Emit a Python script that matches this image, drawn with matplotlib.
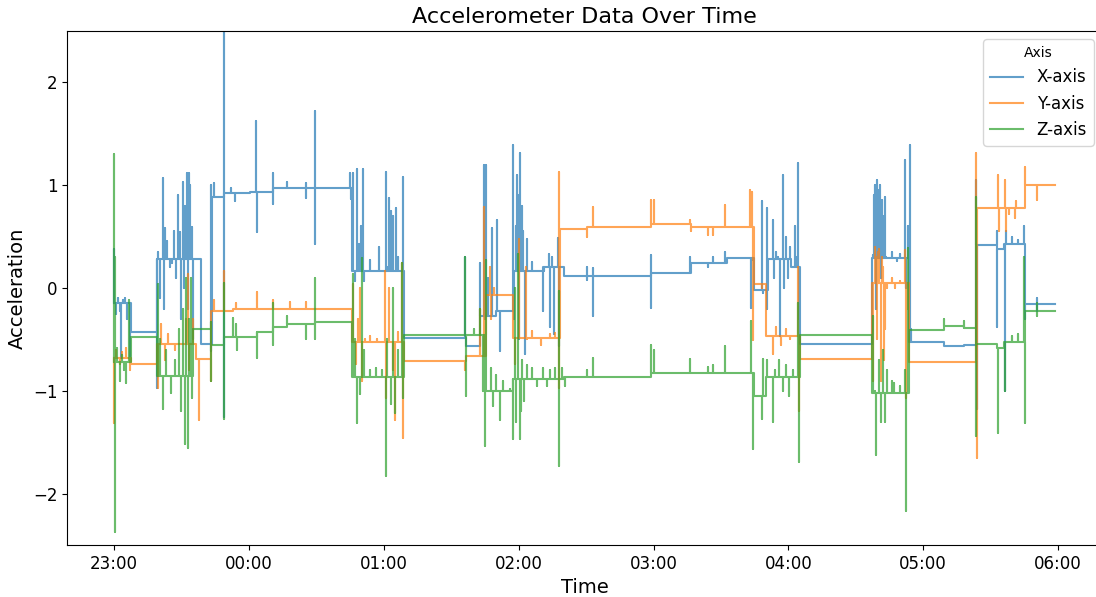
import pandas as pd
import matplotlib
matplotlib.use("Agg")
import matplotlib.pyplot as plt
import matplotlib.dates as mdates

start = pd.Timestamp("2024-05-01 23:00:00")
end_min = 418.6  # last sample, minutes after start

# X axis: resting levels (minute, g) and short excursions (minute, peak g)
x_level_t = [0, 7.6, 19.1, 38.9, 43.6, 49.0, 60.5, 70.7, 105.9, 129.0, 156.5, 162.8, 170.0,
             177.5, 191.0, 200.0, 239.0, 256.5, 272.5, 284.5, 291.0, 301.0, 305.2, 337.2,
             353.5, 369.3, 378.2, 383.5, 393.0, 396.0, 405.2]
x_level_v = [-0.15, -0.43, 0.28, -0.54, 0.89, 0.92, 0.93, 0.97, 0.17, -0.49, -0.56, -0.27, -0.22,
             0.17, 0.2, 0.12, 0.15, 0.24, 0.29, -0.02, 0.28, 0.2, -0.54, 0.29,
             -0.53, -0.56, -0.55, 0.42, 0.38, 0.43, -0.16]
x_spike_t = [0.1, 0.9, 1.8, 2.7, 3.1, 4.0, 4.9, 5.8, 7.1,
             19.1, 19.6, 20.5, 21.8, 22.2, 22.7, 23.6, 24.9, 25.8, 26.5, 27.5, 28.3,
             29.4, 29.8, 30.7, 31.1, 31.5, 32.5, 32.9, 33.4, 33.8, 34.0, 34.7, 35.1,
             43.0, 43.3, 44.5, 48.9, 49.05, 52.0, 53.8, 63.2, 63.4, 70.75, 70.9, 77.0,
             85.4, 85.6, 89.4, 89.6,
             105.0, 105.4, 106.3, 107.2, 108.1, 109.0, 109.9, 110.8, 111.2, 113.9, 117.9,
             121.0, 121.5, 122.3, 123.2, 124.1, 125.5, 126.4, 128.6,
             156.2, 162.9, 164.6, 165.1, 165.5, 166.4, 168.2, 170.4, 171.7,
             177.6, 178.0, 178.9, 179.2, 179.8, 180.2, 180.6, 181.1, 181.5, 182.0, 182.9, 183.7,
             186.0, 190.9, 191.3, 193.5, 194.0, 194.9, 195.8, 197.5, 198.0,
             210.4, 210.6, 213.1, 213.3, 238.9, 239.1, 256.3, 264.3, 266.5, 271.8,
             283.4, 284.3, 288.3, 288.5, 290.5, 290.7, 293.2, 293.4, 294.5, 295.4,
             296.3, 297.6, 298.1, 299.0, 299.9, 300.8, 302.9, 303.9, 304.3, 304.7,
             337.7, 338.2, 338.6, 339.0, 339.5, 340.0, 340.4, 340.8, 341.2, 341.7, 342.1,
             342.5, 343.0, 343.5,
             346.1, 348.4, 349.7, 351.9, 352.4, 353.2, 354.1, 354.6,
             383.5, 383.7, 392.8, 393.0, 396.4, 396.6, 399.5, 402.2, 405.0, 405.3,
             410.6, 410.8]
x_spike_v = [0.38, -0.25, -0.1, -0.22, -0.68, -0.12, -0.1, -0.3, -0.66,
             -0.97, 0.35, -0.1, 1.07, -0.2, 0.58, 0.46, 0.2, 0.24, 0.55, 0.1, 0.9,
             0.54, -0.3, 1.03, 0.0, 0.8, 1.12, -0.2, 1.12, 0.49, 1.0, 0.59, -0.5,
             1.0, -0.61, 1.02, 2.7, -1.25, 0.97, 0.85, 1.62, 0.54, 1.12, 0.82, 1.03,
             1.02, 0.88, 1.72, 0.43,
             1.12, 0.87, 1.12, 0.07, 1.16, 0.43, 0.6, 1.16, 0.07, 0.27, 0.4,
             1.13, 0.2, 0.88, 0.75, 0.7, 0.78, 0.3, 1.08,
             0.3, 0.24, 1.2, -0.3, 1.2, 0.1, 0.58, 0.66, -0.61,
             1.39, -0.3, 0.6, 1.1, 0.9, -0.5, 1.31, 0.2, 0.8, 0.55, -0.64, 0.48,
             0.25, -0.22, 0.17, 0.33, -0.38, 0.3, -0.45, 0.49, -0.56,
             0.2, 0.08, 0.19, -0.27, 0.32, -0.19, 0.3, 0.2, 0.3, 0.35,
             -0.19, 0.27, 0.85, -0.05, 0.78, -0.2, 0.66, 0.1, 0.35, 0.3,
             -0.47, 1.1, 0.0, 0.5, 0.1, 0.4, 0.6, 0.3, 1.22, -0.3,
             0.32, 0.9, 1.0, -0.2, 1.05, 0.95, 0.3, 1.0, 0.1, 0.86, 0.45,
             0.7, 0.89, 0.3,
             0.35, 0.26, 0.33, 1.25, 0.0, 0.6, 1.39, -0.4,
             1.05, -1.18, 0.55, -0.38, -1.0, 0.55, 0.5, 0.47, 0.6, -0.3,
             -0.1, -0.22]

# Y axis
y_level_t = [0, 7.6, 19.1, 36.5, 43.3, 53.0, 105.9, 129.0, 156.5, 165.5, 177.5, 198.2,
             210.5, 239.0, 256.5, 284.5, 290.0, 305.2, 337.2, 353.5, 383.5, 405.2]
y_level_v = [-0.68, -0.74, -0.54, -0.69, -0.22, -0.2, -0.53, -0.71, -0.66, -0.07, -0.49, 0.57,
             0.59, 0.62, 0.59, 0.04, -0.47, -0.69, 0.05, -0.72, 0.78, 1.0]
y_spike_t = [0.2, 1.0, 2.5, 3.5, 5.5, 7.0,
             19.4, 21.0, 22.5, 24.0, 27.0, 31.8, 32.9, 33.5, 35.0, 37.8,
             43.1, 44.5, 48.9, 54.3, 63.6, 70.7, 78.3, 85.4,
             106.5, 107.5, 108.5, 109.5, 110.5, 111.5, 114.0, 117.0, 120.5, 121.0,
             122.5, 124.0, 125.0, 126.5, 128.3, 128.7,
             156.2, 162.8, 164.6, 165.0, 167.3, 167.6, 169.0,
             178.4, 180.2, 183.3, 183.5, 186.0, 190.0, 194.0, 196.0, 197.8, 198.0,
             210.4, 213.1, 238.9, 240.2, 256.3, 256.5, 264.3, 266.5, 271.8,
             283.0, 283.6, 284.3,
             288.3, 293.2, 294.5, 296.8, 299.0, 300.8, 304.3, 304.6,
             337.8, 338.5, 338.8, 339.5, 339.8, 340.2, 341.0, 341.5, 342.0, 342.5, 343.0, 344.0,
             346.1, 347.5, 349.7, 351.9, 352.3, 353.0,
             383.5, 383.7, 393.3, 393.5, 396.4, 396.6, 398.2, 400.9, 401.1, 405.3,
             410.6]
y_spike_v = [-1.31, -0.6, -0.74, -0.62, -0.58, -0.8,
             -0.97, -0.35, -0.7, -0.45, -0.6, -0.3, 0.14, -0.8, -0.3, -1.28,
             -0.9, -0.12, 0.17, -0.15, -0.04, -0.12, -0.14, -0.14,
             0.04, -0.74, -0.3, 0.0, -0.9, -0.5, -0.47, -0.5, 0.17, -1.07,
             0.0, -0.8, -1.28, -0.43, 0.24, -1.46,
             -0.8, -0.2, 0.79, -0.3, 0.2, -0.3, 0.0,
             -0.74, 0.48, 0.2, -0.5, -0.42, -0.55, -0.45, -0.44, -0.97, 1.13,
             0.5, 0.79, 0.86, 0.86, 0.66, 0.55, 0.52, 0.52, 0.81,
             0.95, 0.93, -0.51,
             0.0, -0.64, -0.38, -0.55, -0.4, -0.5, 0.2, -1.2,
             -0.9, 0.4, 0.3, -0.5, 0.35, 0.38, -0.9, 0.3, 0.2, -0.7, -0.4, 0.0,
             0.1, 0.0, 0.07, 0.37, -1.07, -0.2,
             1.31, -1.65, 1.1, 0.55, 1.05, 0.55, 0.72, 0.68, 0.85, 1.18,
             0.86]

# Z axis
z_level_t = [0, 7.6, 19.1, 35.0, 43.3, 49.0, 63.6, 70.7, 77.0, 89.4, 105.9, 129.0, 165.5,
             177.5, 200.0, 239.0, 284.5, 290.0, 305.2, 337.2, 353.5, 369.3, 378.2, 383.5,
             393.0, 396.0, 405.2]
z_level_v = [-0.72, -0.48, -0.86, -0.4, -0.55, -0.48, -0.43, -0.38, -0.35, -0.33, -0.87, -0.46, -1.0,
             -0.89, -0.87, -0.83, -1.05, -0.87, -0.46, -1.02, -0.41, -0.37, -0.39, -0.54,
             -0.58, -0.53, -0.22]
z_spike_t = [0.1, 0.3, 0.5, 1.5, 2.5, 3.5, 4.5, 5.5, 6.5, 7.0,
             19.5, 20.5, 21.8, 23.0, 25.5, 27.0, 29.0, 30.0, 30.8,
             31.6, 32.0, 32.9, 33.5, 34.2, 34.8,
             43.0, 43.1, 48.9, 49.1, 52.9, 54.3, 54.5, 63.6, 70.7, 70.9, 77.0, 85.4, 89.45, 89.6,
             106.2, 107.0, 108.0, 109.5, 110.5, 111.0, 114.0, 116.5, 119.0,
             121.0, 121.5, 123.0, 124.0, 125.0, 126.5, 128.3, 128.7,
             156.2, 156.4, 160.0, 162.8, 164.2, 165.0, 165.3,
             167.5, 168.5, 170.0, 171.5, 173.0, 176.0,
             177.6, 178.5, 179.0, 179.5, 180.5, 181.0, 181.5, 182.5, 183.5,
             186.0, 188.0, 191.0, 192.5, 194.0, 196.0, 197.8, 198.1, 199.5, 200.5,
             210.4, 213.1, 238.9, 240.2, 256.3, 264.3, 266.5, 271.8,
             283.2, 283.5, 284.2, 288.3, 288.5, 290.3, 293.2, 294.0, 296.0, 297.5,
             299.0, 300.5, 302.0, 304.3, 304.6,
             337.6, 338.5, 339.2, 340.5, 341.4, 342.3, 343.2, 344.0,
             346.1, 347.0, 349.7, 351.9, 352.4, 353.2,
             369.3, 378.2, 383.3, 383.6, 393.2, 396.4, 399.5, 402.2, 404.9, 405.1,
             410.6, 410.8]
z_spike_v = [1.3, -2.37, 0.3, -0.58, -0.9, -0.65, -0.8, -0.92, -0.12, -0.7,
             0.04, -0.5, -1.18, -0.6, -1.02, -0.7, -0.4, -1.2, -0.2,
             -1.52, 0.1, -1.56, -0.3, 0.1, -1.07,
             -0.33, -0.9, 0.05, -1.27, -0.29, -0.35, -0.6, -0.68, -0.15, -0.55, -0.27, -0.5, 0.1, -0.5,
             0.14, -0.5, -1.31, -1.03, 0.29, -0.6, -0.8, -0.78, -0.8,
             -1.83, -0.5, -1.13, 0.0, -1.22, -0.6, 0.24, -1.07,
             0.3, -1.05, -0.4, -0.2, -1.0, -1.54, 0.27,
             -0.78, -1.15, -0.85, -1.28, -0.9, -0.98,
             -1.47, 0.0, -1.3, 0.33, -1.47, -1.2, -0.7, -1.1, -0.75,
             -0.78, -0.95, -0.78, -0.95, -0.8, -0.78, -0.03, -1.73, -0.78, -0.95,
             -0.8, -0.68, -0.55, -0.6, -0.69, -0.77, -0.75, -0.56,
             -0.32, -0.7, -1.57, -1.27, -0.69, -0.7, -1.3, -0.8, -0.7, -1.0,
             -0.75, -1.05, -0.8, -0.15, -1.69,
             -0.27, -1.0, -1.62, -0.7, -1.3, -0.6, -1.3, -0.8,
             -0.9, -0.92, -0.95, -0.8, -2.17, 0.39,
             -0.3, -0.32, 0.89, -1.44, -1.41, -1.0, -0.47, -0.45, 0.3, -1.31,
             -0.15, -0.27]


def build_trace(level_t, level_v, spike_t, spike_v):
    # resting level held between changes, each excursion drawn as a vertical jump and back
    events = [(t, 0, v) for t, v in zip(level_t, level_v)]
    events += [(t, 1, v) for t, v in zip(spike_t, spike_v)]
    events.sort(key=lambda e: (e[0], e[1]))
    ts, vs = [], []
    cur = level_v[0]
    for t, kind, v in events:
        if kind == 0:
            ts += [t, t]
            vs += [cur, v]
            cur = v
        else:
            ts += [t, t, t]
            vs += [cur, v, cur]
    ts.append(end_min)
    vs.append(cur)
    return start + pd.to_timedelta(ts, unit="m"), vs


fig = plt.figure(figsize=(10.96, 5.97), dpi=100)
ax = fig.add_axes([67 / 1096, 52 / 597, 1035 / 1096, 514 / 597])

for name, lt, lv, st, sv in [("X-axis", x_level_t, x_level_v, x_spike_t, x_spike_v),
                             ("Y-axis", y_level_t, y_level_v, y_spike_t, y_spike_v),
                             ("Z-axis", z_level_t, z_level_v, z_spike_t, z_spike_v)]:
    t, v = build_trace(lt, lv, st, sv)
    ax.plot(t, v, label=name, alpha=0.7, linewidth=1.5)

ax.set_ylim(-2.5, 2.5)
ax.spines["right"].set_visible(False)
ax.xaxis.set_major_locator(mdates.HourLocator())
ax.xaxis.set_major_formatter(mdates.DateFormatter("%H:%M"))
ax.tick_params(labelsize=12)
ax.set_title("Accelerometer Data Over Time", fontsize=16)
ax.set_xlabel("Time", fontsize=14)
ax.set_ylabel("Acceleration", fontsize=14)
ax.legend(title="Axis", fontsize=12, loc="upper right")

fig.savefig("out.png", dpi=100)
